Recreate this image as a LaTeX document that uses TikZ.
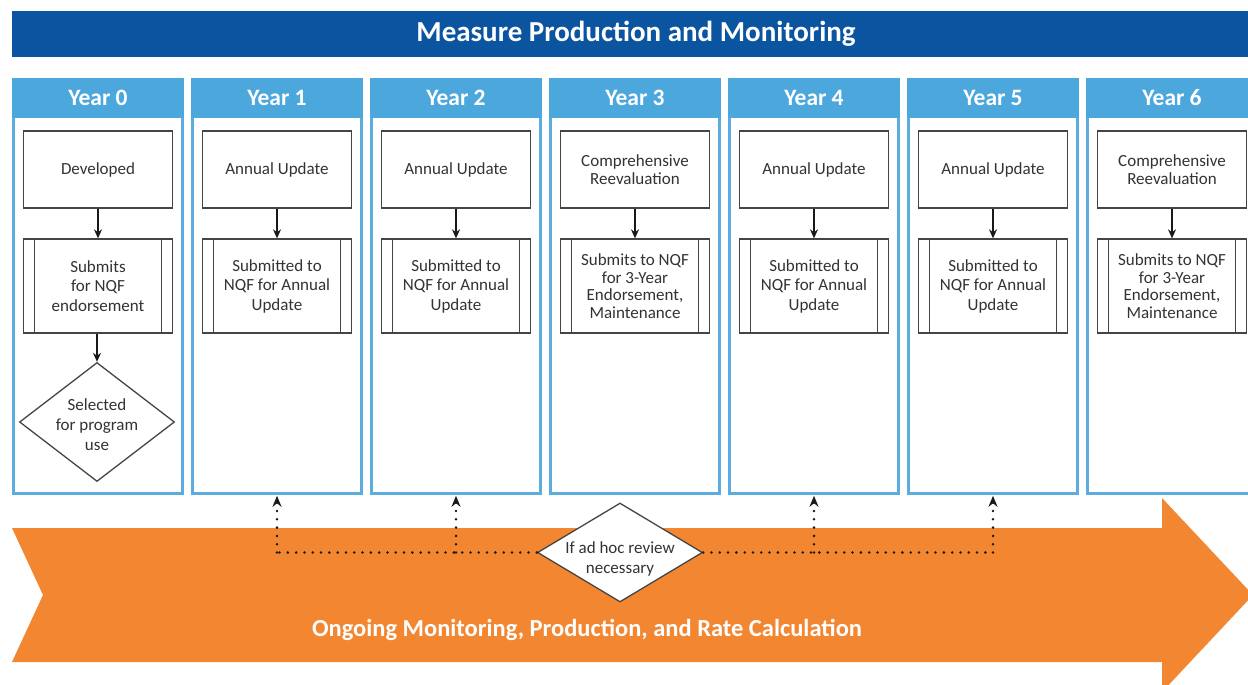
\documentclass[tikz,border=0pt]{standalone}
\usepackage{fontspec}
\setmainfont{Carlito}
\usetikzlibrary{shapes.geometric,arrows.meta,calc}
\definecolor{titleblue}{HTML}{0B54A0}
\definecolor{headblue}{HTML}{4CA7DD}
\definecolor{colborder}{HTML}{5AADDC}
\definecolor{arroworange}{HTML}{F28631}
\definecolor{boxline}{HTML}{454545}
\definecolor{txt}{HTML}{333333}
\begin{document}
\begin{tikzpicture}[x=1pt,y=-1pt,
  yearcol/.style={draw=colborder, line width=2.6pt, fill=white, minimum width=169pt, minimum height=414pt, inner sep=0pt},
  yearhead/.style={fill=headblue, minimum width=172pt, minimum height=40pt, text=white, font=\fontsize{23.5}{27}\selectfont\bfseries, inner sep=0pt},
  stepbox/.style={draw=boxline, line width=1.3pt, fill=white, minimum width=149pt, minimum height=77pt, align=center, text=txt, font=\fontsize{17}{19.5}\selectfont, inner sep=2pt},
  procbox/.style={stepbox, minimum height=94pt, path picture={
      \draw[boxline, line width=1.3pt]
        ([xshift=11pt]path picture bounding box.north west) -- ([xshift=11pt]path picture bounding box.south west)
        ([xshift=-11pt]path picture bounding box.north east) -- ([xshift=-11pt]path picture bounding box.south east);}},
  tight/.style={font=\fontsize{17}{17.6}\selectfont},
  decision/.style={diamond, draw=boxline, line width=1.3pt, fill=white, inner sep=0pt},
  dtext/.style={align=center, text=txt, font=\fontsize{17}{20}\selectfont, inner sep=0pt},
  flow/.style={draw=black!90, line width=1.4pt, -{Stealth[length=9pt,width=8pt]}},
  dotconn/.style={draw=black!90, line width=2.8pt, line cap=round, dash pattern=on 0pt off 8.3pt},
  dotarrow/.style={dotconn, shorten >=1pt, -{Stealth[length=11pt,width=9pt]}},
]
\useasboundingbox (0,0) rectangle (1248,685);
\clip (0,0) rectangle (1248,685);
\fill[white] (0,0) rectangle (1248,685);

% title bar
\node[fill=titleblue, minimum width=1248pt, minimum height=46pt, inner sep=0pt, text=white,
      font=\fontsize{29}{33}\selectfont\bfseries] (title) at (636,34) {Measure Production and Monitoring};

% orange arrow
\fill[arroworange] (12,528) -- (1162,528) -- (1162,498) -- (1253,595) -- (1162,692) -- (1162,662) -- (12,662) -- (43,595) -- cycle;
\node[text=white, font=\fontsize{24.5}{28}\selectfont\bfseries] (ongoing) at (587,630) {Ongoing Monitoring, Production, and Rate Calculation};

% year columns
\foreach \i in {0,...,6}{
  \node[yearcol] (col\i) at ({98+179*\i},286.5) {};
  \node[yearhead] (head\i) at ({98+179*\i},98) {Year \i};
}

% Year 0
\node[stepbox] (dev0) at (98,169.5) {Developed};
\node[procbox] (sub0) at (98,286) {Submits\\for NQF\\endorsement};
\node[decision, minimum width=155pt, minimum height=119pt,
      label={[dtext, yshift=-3pt]center:{Selected\\for program\\use}}] (sel0) at (97,422) {};
\draw[flow] (dev0) -- (sub0);
\draw[flow] (sub0.south -| sel0.north) -- (sel0.north);

% Year 1
\node[stepbox] (upd1) at (277,169.5) {Annual Update};
\node[procbox] (sub1) at (277,286) {Submitted to\\NQF for Annual\\Update};
\draw[flow] (upd1) -- (sub1);

% Year 2
\node[stepbox] (upd2) at (456,169.5) {Annual Update};
\node[procbox] (sub2) at (456,286) {Submitted to\\NQF for Annual\\Update};
\draw[flow] (upd2) -- (sub2);

% Year 3
\node[stepbox, tight] (rev3) at (635,169.5) {Comprehensive\\Reevaluation};
\node[procbox, tight] (sub3) at (635,286) {Submits to NQF\\for 3-Year\\Endorsement,\\Maintenance};
\draw[flow] (rev3) -- (sub3);

% Year 4
\node[stepbox] (upd4) at (814,169.5) {Annual Update};
\node[procbox] (sub4) at (814,286) {Submitted to\\NQF for Annual\\Update};
\draw[flow] (upd4) -- (sub4);

% Year 5
\node[stepbox] (upd5) at (993,169.5) {Annual Update};
\node[procbox] (sub5) at (993,286) {Submitted to\\NQF for Annual\\Update};
\draw[flow] (upd5) -- (sub5);

% Year 6
\node[stepbox, tight] (rev6) at (1172,169.5) {Comprehensive\\Reevaluation};
\node[procbox, tight] (sub6) at (1172,286) {Submits to NQF\\for 3-Year\\Endorsement,\\Maintenance};
\draw[flow] (rev6) -- (sub6);

% ad hoc review
\node[decision, minimum width=165pt, minimum height=99pt,
      label={[dtext, yshift=-6pt]center:{If ad hoc review\\necessary}}] (adhoc) at (620,552.5) {};
\coordinate (j1) at (col1.south |- adhoc.west);
\coordinate (j2) at (col2.south |- adhoc.west);
\coordinate (j4) at (col4.south |- adhoc.east);
\coordinate (j5) at (col5.south |- adhoc.east);
\draw[dotconn] (adhoc.west) -- (j1);
\draw[dotarrow] (j1) -- (col1.south);
\draw[dotarrow] (j2) -- (col2.south);
\draw[dotconn] (adhoc.east) -- (j5);
\draw[dotarrow] (j4) -- (col4.south);
\draw[dotarrow] (j5) -- (col5.south);
\end{tikzpicture}
\end{document}
